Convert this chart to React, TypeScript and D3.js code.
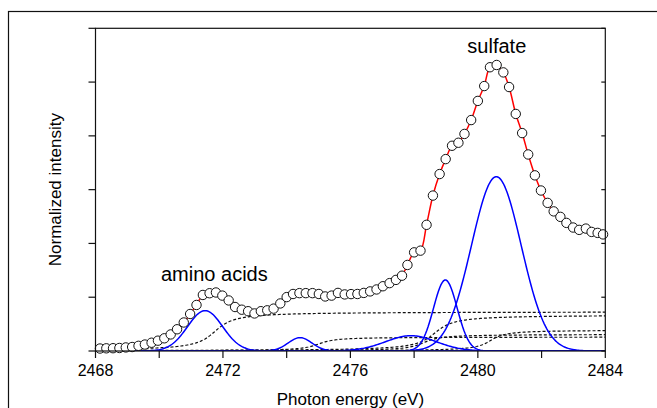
import React from 'react';
import * as d3 from 'd3';

const energies = [
  2468.14, 2468.34, 2468.55, 2468.75, 2468.95, 2469.15, 2469.35, 2469.55, 2469.76, 2469.96,
  2470.16, 2470.36, 2470.56, 2470.77, 2470.97, 2471.17, 2471.37, 2471.58, 2471.78, 2471.98,
  2472.18, 2472.38, 2472.59, 2472.79, 2472.99, 2473.19, 2473.39, 2473.59, 2473.80, 2474.00,
  2474.20, 2474.40, 2474.60, 2474.81, 2475.01, 2475.21, 2475.41, 2475.61, 2475.82, 2476.02,
  2476.22, 2476.42, 2476.62, 2476.82, 2477.02, 2477.23, 2477.43, 2477.62, 2477.79, 2478.00,
  2478.20, 2478.39, 2478.59, 2478.80, 2478.99, 2479.19, 2479.39, 2479.58, 2479.79, 2480.00,
  2480.20, 2480.38, 2480.59, 2480.80, 2480.98, 2481.19, 2481.39, 2481.58, 2481.79, 2481.98,
  2482.19, 2482.38, 2482.59, 2482.78, 2482.99, 2483.18, 2483.39, 2483.57, 2483.76, 2483.93,
];

const intensities = [
  0.023, 0.025, 0.026, 0.028, 0.033, 0.037, 0.048, 0.060, 0.077, 0.096,
  0.118, 0.154, 0.202, 0.265, 0.344, 0.428, 0.521, 0.537, 0.544, 0.515,
  0.470, 0.409, 0.384, 0.370, 0.349, 0.370, 0.378, 0.394, 0.442, 0.501,
  0.530, 0.538, 0.538, 0.538, 0.530, 0.507, 0.515, 0.540, 0.526, 0.529,
  0.530, 0.540, 0.554, 0.572, 0.602, 0.631, 0.661, 0.700, 0.800, 0.917,
  0.933, 1.173, 1.445, 1.645, 1.784, 1.908, 1.936, 2.018, 2.147, 2.325,
  2.463, 2.638, 2.659, 2.590, 2.454, 2.204, 2.026, 1.827, 1.633, 1.492,
  1.377, 1.298, 1.247, 1.191, 1.148, 1.126, 1.138, 1.107, 1.098, 1.084,
];

// Gaussian fit components (blue)
const peakCenters = [2471.44, 2474.42, 2477.9, 2478.98, 2480.58];
const peakHeights = [0.375, 0.124, 0.142, 0.66, 1.62];
const peakWidths = [0.55, 0.37, 0.8, 0.37, 0.78];

// Arctangent step components (dashed black)
const stepCenters = [2471.75, 2475.0, 2478.3, 2478.65, 2480.4];
const stepHeights = [0.365, 0.13, 0.155, 0.335, 0.195];
const stepWidths = [0.45, 0.4, 0.4, 0.45, 0.35];

const xTicks = [2468, 2470, 2472, 2474, 2476, 2478, 2480, 2482, 2484];
const xTickLabels = [2468, 2472, 2476, 2480, 2484];
const yTicks = [0, 0.5, 1, 1.5, 2, 2.5, 3];

const FONT = "'Liberation Sans', Arial, Helvetica, sans-serif";

export default function App() {
  const W = 657;
  const H = 408;
  const L = 95.5;
  const R = 605.3;
  const T = 28.3;
  const B = 351;

  const x = d3.scaleLinear().domain([2468, 2484]).range([L, R]);
  const y = d3.scaleLinear().domain([0, 3]).range([B, T]);

  const grid = d3.range(2468, 2484.0001, 0.04);

  const line = d3
    .line<[number, number]>()
    .x((d) => x(d[0]))
    .y((d) => y(d[1]));

  const gaussPaths = peakCenters.map((c, i) =>
    line(grid.map((e) => [e, peakHeights[i] * Math.exp(-((e - c) ** 2) / (2 * peakWidths[i] ** 2))]))
  );
  const stepPaths = stepCenters.map((c, i) =>
    line(grid.map((e) => [e, stepHeights[i] * (0.5 + Math.atan((e - c) / stepWidths[i]) / Math.PI)]))
  );

  const fitLine = d3
    .line<number>()
    .x((_, i) => x(energies[i]))
    .y((d) => y(d))
    .curve(d3.curveCatmullRom.alpha(0.5));

  return (
    <svg
      width={W}
      height={H}
      style={{ position: 'absolute', left: 0, top: 0, background: '#fff' }}
    >
      <rect x={0} y={0} width={W} height={H} fill="#fff" />
      <rect x={8.5} y={11.5} width={800} height={600} fill="none" stroke="#111" strokeWidth={1.2} />
      <defs>
        <clipPath id="plotClip">
          <rect x={L} y={T} width={R - L} height={B - T} />
        </clipPath>
      </defs>

      <g clipPath="url(#plotClip)">
        {stepPaths.map((p, i) => (
          <path key={'s' + i} d={p || ''} fill="none" stroke="#111" strokeWidth={1.2} strokeDasharray="3,2" />
        ))}
        {gaussPaths.map((p, i) => (
          <path key={'g' + i} d={p || ''} fill="none" stroke="#0000ff" strokeWidth={1.5} />
        ))}
        <path d={fitLine(intensities) || ''} fill="none" stroke="#ff0000" strokeWidth={1.5} />
      </g>

      {intensities.map((v, i) => (
        <circle key={'c' + i} cx={x(energies[i])} cy={y(v)} r={4.7} fill="#fff" stroke="#111" strokeWidth={1} />
      ))}

      {/* frame */}
      <rect x={L} y={T} width={R - L} height={B - T} fill="none" stroke="#111" strokeWidth={1.2} />

      {/* left ticks (outward) */}
      {yTicks.map((t) => (
        <line key={'yl' + t} x1={L - 7} x2={L} y1={y(t)} y2={y(t)} stroke="#111" strokeWidth={1.2} />
      ))}
      {/* right ticks (inward) */}
      {yTicks.map((t) => (
        <line key={'yr' + t} x1={R - 4} x2={R} y1={y(t)} y2={y(t)} stroke="#111" strokeWidth={1.2} />
      ))}
      {/* bottom ticks */}
      {xTicks.map((t) => (
        <line key={'xt' + t} x1={x(t)} x2={x(t)} y1={B} y2={B + 7} stroke="#111" strokeWidth={1.2} />
      ))}
      {xTickLabels.map((t) => (
        <text key={'xl' + t} x={x(t)} y={375.5} textAnchor="middle" fontFamily={FONT} fontSize={16} fill="#000">
          {t}
        </text>
      ))}

      <text x={(L + R) / 2} y={405} textAnchor="middle" fontFamily={FONT} fontSize={17} fill="#000">
        Photon energy (eV)
      </text>
      <text
        transform={`translate(60.5, ${(T + B) / 2}) rotate(-90)`}
        textAnchor="middle"
        fontFamily={FONT}
        fontSize={17}
        fill="#000"
      >
        Normalized intensity
      </text>

      <text x={161} y={280.5} fontFamily={FONT} fontSize={20} fill="#000">
        amino acids
      </text>
      <text x={496.8} y={52.5} textAnchor="middle" fontFamily={FONT} fontSize={20} fill="#000">
        sulfate
      </text>
    </svg>
  );
}
